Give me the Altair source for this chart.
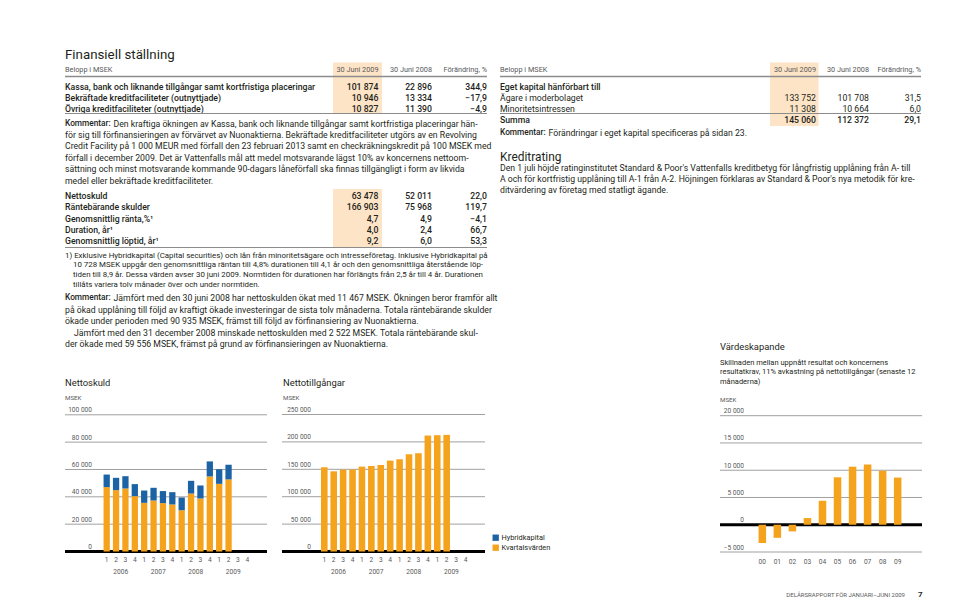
import altair as alt
import pandas as pd

W, H = 944, 591
OFF = 8
FONT = "Roboto"
DARK = "#231f20"
GRAY = "#58595b"
ORANGE = "#f5a21c"
BLUE = "#1b63a5"
PEACH = "#fde4c6"
GRID = "#a0a0a0"

BODY = 8.7
ROW = 8.7
ROWW = 500
SMALL = 7.3

# ---------------- text content ----------------
title_left = "Finansiell ställning"
belopp = "Belopp i MSEK"
col_heads = ["30 Juni 2009", "30 Juni 2008", "Förändring, %"]

t1_labels = ["Kassa, bank och liknande tillgångar samt kortfristiga placeringar",
             "Bekräftade kreditfaciliteter (outnyttjade)",
             "Övriga kreditfaciliteter (outnyttjade)"]
t1_2009 = ["101 874", "10 946", "10 827"]
t1_2008 = ["22 896", "13 334", "11 390"]
t1_chg = ["344,9", "−17,9", "−4,9"]

comment_label = "Kommentar:"
comment1_first = "Den kraftiga ökningen av Kassa, bank och liknande tillgångar samt kortfristiga placeringar hän-"
comment1_rest = [
    "för sig till förfinansieringen av förvärvet av Nuonaktierna. Bekräftade kreditfaciliteter utgörs av en Revolving",
    "Credit Facility på 1 000 MEUR med förfall den 23 februari 2013 samt en checkräkningskredit på 100 MSEK med",
    "förfall i december 2009. Det är Vattenfalls mål att medel motsvarande lägst 10% av koncernens nettoom-",
    "sättning och minst motsvarande kommande 90-dagars låneförfall ska finnas tillgängligt i form av likvida",
    "medel eller bekräftade kreditfaciliteter.",
]

t2_labels = ["Nettoskuld", "Räntebärande skulder", "Genomsnittlig ränta,%¹",
             "Duration, år¹", "Genomsnittlig löptid, år¹"]
t2_2009 = ["63 478", "166 903", "4,7", "4,0", "9,2"]
t2_2008 = ["52 011", "75 968", "4,9", "2,4", "6,0"]
t2_chg = ["22,0", "119,7", "−4,1", "66,7", "53,3"]

footnote = [
    "1) Exklusive Hybridkapital (Capital securities) och lån från minoritetsägare och intresseföretag. Inklusive Hybridkapital på",
    "10 728 MSEK uppgår den genomsnittliga räntan till 4,8% durationen till 4,1 år och den genomsnittliga återstående löp-",
    "tiden till 8,9 år. Dessa värden avser 30 juni 2009. Normtiden för durationen har förlängts från 2,5 år till 4 år. Durationen",
    "tillåts variera tolv månader över och under normtiden.",
]

comment2_first = "Jämfört med den 30 juni 2008 har nettoskulden ökat med 11 467 MSEK. Ökningen beror framför allt"
comment2_rest = [
    "på ökad upplåning till följd av kraftigt ökade investeringar de sista tolv månaderna. Totala räntebärande skulder",
    "ökade under perioden med 90 935 MSEK, främst till följd av förfinansiering av Nuonaktierna.",
]
comment2_para2 = [
    "Jämfört med den 31 december 2008 minskade nettoskulden med 2 522 MSEK. Totala räntebärande skul-",
    "der ökade med 59 556 MSEK, främst på grund av förfinansieringen av Nuonaktierna.",
]

t3_labels = ["Eget kapital hänförbart till", "Ägare i moderbolaget", "Minoritetsintressen", "Summa"]
t3_2009 = ["", "133 752", "11 308", "145 060"]
t3_2008 = ["", "101 708", "10 664", "112 372"]
t3_chg = ["", "31,5", "6,0", "29,1"]
t3_bold = [True, False, False, True]
comment3 = "Förändringar i eget kapital specificeras på sidan 23."

kredit_title = "Kreditrating"
kredit_text = [
    "Den 1 juli höjde ratinginstitutet Standard & Poor's Vattenfalls kreditbetyg för långfristig upplåning från A- till",
    "A och för kortfristig upplåning till A-1 från A-2. Höjningen förklaras av Standard & Poor's nya metodik för kre-",
    "ditvärdering av företag med statligt ägande.",
]

vs_title = "Värdeskapande"
vs_sub = ["Skillnaden mellan uppnått resultat och koncernens",
          "resultatkrav, 11% avkastning på nettotillgångar (senaste 12",
          "månaderna)"]
footer = "DELÅRSRAPPORT FÖR JANUARI–JUNI 2009"
page_no = "7"

# ---------------- chart data ----------------
years = ["2006", "2007", "2008", "2009"]
quarter_nums = ["1", "2", "3", "4"]
quarters = [f"{y}-{q}" for y in years for q in quarter_nums]

ns_kvartal = [47100, 44900, 46100, 40500, 35600, 37300, 35400, 34400,
              30200, 42400, 38800, 54900, 49500, 52750]
ns_hybrid = [9200, 9000, 9000, 8800, 9000, 9300, 8800, 9000,
             9300, 9300, 9500, 11000, 10700, 10728]
ns_ticks = [0, 20000, 40000, 60000, 80000, 100000]
ns_tick_labels = ["0", "20 000", "40 000", "60 000", "80 000", "100 000"]

nt_values = [153700, 146300, 149400, 149600, 154900, 156100, 157900, 165900,
             168300, 177400, 179300, 211600, 212200, 212800]
nt_ticks = [0, 50000, 100000, 150000, 200000, 250000]
nt_tick_labels = ["0", "50 000", "100 000", "150 000", "200 000", "250 000"]

vs_years = ["00", "01", "02", "03", "04", "05", "06", "07", "08", "09"]
vs_values = [-3350, -2400, -1220, 1220, 4400, 8700, 10650, 11050, 9900, 8650]
vs_ticks = [-5000, 0, 5000, 10000, 15000, 20000]
vs_tick_labels = ["−5 000", "0", "5 000", "10 000", "15 000", "20 000"]

# ---------------- helpers ----------------
PXX = alt.Scale(domain=[0, W], range=[0, W])
PXY = alt.Scale(domain=[0, H], range=[0, H])
layers = []


def text_layer(items, **style):
    df = pd.DataFrame(items, columns=["x", "y", "t"])
    df["x"] = df["x"] - OFF
    df["y"] = df["y"] - OFF
    base = dict(font=FONT, fontSize=BODY, color=DARK, align="left", baseline="middle")
    base.update(style)
    return alt.Chart(df).mark_text(**base).encode(
        x=alt.X("x:Q", scale=PXX, axis=None),
        y=alt.Y("y:Q", scale=PXY, axis=None),
        text="t:N")


def rule_layer(items, color, width):
    df = pd.DataFrame(items, columns=["x", "x2", "y"])
    for c in df.columns:
        df[c] = df[c] - OFF
    return alt.Chart(df).mark_rule(color=color, strokeWidth=width).encode(
        x=alt.X("x:Q", scale=PXX, axis=None), x2="x2:Q",
        y=alt.Y("y:Q", scale=PXY, axis=None))


def rect_layer(items, color):
    df = pd.DataFrame(items, columns=["x", "x2", "y", "y2"])
    for c in df.columns:
        df[c] = df[c] - OFF
    return alt.Chart(df).mark_rect(color=color).encode(
        x=alt.X("x:Q", scale=PXX, axis=None), x2="x2:Q",
        y=alt.Y("y:Q", scale=PXY, axis=None), y2="y2:Q")


# ---------------- highlight columns ----------------
layers.append(rect_layer([(333, 382, 62.5, 113.5), (333, 382, 189, 247.5), (770, 818.5, 62.5, 126)], PEACH))

# ---------------- left column text ----------------
layers.append(text_layer([(65, 55, title_left)], fontSize=13.3))
layers.append(text_layer([(65, 69.5, belopp), (500, 69.5, belopp)], fontSize=SMALL, color=GRAY))
heads = [(378.5, 69.5, col_heads[0]), (432, 69.5, col_heads[1]), (487, 69.5, col_heads[2]),
         (816, 69.5, col_heads[0]), (869, 69.5, col_heads[1]), (921, 69.5, col_heads[2])]
layers.append(text_layer(heads, fontSize=SMALL, color=GRAY, align="right"))
layers.append(rule_layer([(65, 487, 76.5), (500, 921, 76.5)], "#8c8c8c", 1.5))

row_y1 = [87.2, 98.4, 109.4]
layers.append(text_layer([(65, y, t) for y, t in zip(row_y1, t1_labels)], fontSize=ROW, fontWeight=ROWW))
vals1 = []
for y, a, b, c in zip(row_y1, t1_2009, t1_2008, t1_chg):
    vals1 += [(378.5, y, a), (432, y, b), (487, y, c)]
layers.append(text_layer(vals1, fontSize=ROW, fontWeight=ROWW, align="right"))
layers.append(rule_layer([(65, 487, 113.5), (65, 487, 247.5), (500, 921, 113.5)], "#8c8c8c", 1))

para_y1 = [123.5 + 11.4 * i for i in range(6)]
layers.append(text_layer([(65, para_y1[0], comment_label), (65, 298, comment_label), (500, 133, comment_label)],
                         fontSize=8.3, fontWeight=ROWW))
first_lines = [(113.5, para_y1[0], comment1_first), (113.5, 298, comment2_first), (548.5, 133, comment3)]
layers.append(text_layer(first_lines))
layers.append(text_layer([(65, y, t) for y, t in zip(para_y1[1:], comment1_rest)]))

row_y2 = [196, 207.3, 218.6, 229.9, 241.2]
layers.append(text_layer([(65, y, t) for y, t in zip(row_y2, t2_labels)], fontSize=ROW, fontWeight=ROWW))
vals2 = []
for y, a, b, c in zip(row_y2, t2_2009, t2_2008, t2_chg):
    vals2 += [(378.5, y, a), (432, y, b), (487, y, c)]
layers.append(text_layer(vals2, fontSize=ROW, fontWeight=ROWW, align="right"))

fn_y = [255.5, 265.2, 274.9, 284.6]
fn_items = [(65, fn_y[0], footnote[0])] + [(73, y, t) for y, t in zip(fn_y[1:], footnote[1:])]
layers.append(text_layer(fn_items, fontSize=7.9))

c2_items = [(65, 309.5, comment2_rest[0]), (65, 321, comment2_rest[1]),
            (74, 332.5, comment2_para2[0]), (65, 344, comment2_para2[1])]
layers.append(text_layer(c2_items))

# ---------------- right column text ----------------
row_y3 = [86.5, 97.5, 108.5, 119.5]
for bold in (True, False):
    lab = [(500, y, t) for y, t, b in zip(row_y3, t3_labels, t3_bold) if b == bold]
    val = []
    for y, a, bb, c, b in zip(row_y3, t3_2009, t3_2008, t3_chg, t3_bold):
        if b == bold and a:
            val += [(816, y, a), (869, y, bb), (921, y, c)]
    style = dict(fontSize=ROW, fontWeight=ROWW if bold else "normal")
    layers.append(text_layer(lab, **style))
    layers.append(text_layer(val, align="right", **style))

layers.append(text_layer([(500, 157, kredit_title)], fontSize=11.9))
layers.append(text_layer([(500, 168 + 11 * i, t) for i, t in enumerate(kredit_text)]))

# ---------------- chart titles ----------------
layers.append(text_layer([(65, 383, "Nettoskuld"), (283, 383, "Nettotillgångar"), (720, 347, vs_title)], fontSize=9.4))
layers.append(text_layer([(65, 398, "MSEK"), (283, 398, "MSEK"), (720, 400, "MSEK")], fontSize=6.2, color=GRAY))
layers.append(text_layer([(720, 362.5 + 9.6 * i, t) for i, t in enumerate(vs_sub)], fontSize=7.5))
layers.append(text_layer([(905, 595, footer)], fontSize=6, color=GRAY, align="right"))
layers.append(text_layer([(918, 594.5, page_no)], fontSize=8, fontWeight="bold"))


# ---------------- bar charts ----------------
def axis_parts(ticks, labels, yscale, x0, x1, label_x):
    tdf = pd.DataFrame({"v": ticks, "lab": labels})
    grid = alt.Chart(tdf[tdf.v != 0]).mark_rule(color=GRID, strokeWidth=1).encode(
        y=alt.Y("v:Q", scale=yscale, axis=None),
        x=alt.value(x0 - OFF), x2=alt.value(x1 - OFF))
    zero = alt.Chart(tdf[tdf.v == 0]).mark_rule(color="#000000", strokeWidth=3).encode(
        y=alt.Y("v:Q", scale=yscale, axis=None),
        x=alt.value(x0 - OFF), x2=alt.value(x1 - OFF))
    labs = alt.Chart(tdf).mark_text(font=FONT, fontSize=6.6, color=GRAY, align="right",
                                    baseline="bottom", dy=-1.5).encode(
        y=alt.Y("v:Q", scale=yscale, axis=None),
        x=alt.value(label_x - OFF), text="lab:N")
    return [grid, labs, zero]


def quarter_labels(xscale, y_q, y_year, step):
    qdf = pd.DataFrame({"q": quarters, "lab": [q.split("-")[1] for q in quarters]})
    ql = alt.Chart(qdf).mark_text(font=FONT, fontSize=6.6, color=GRAY).encode(
        x=alt.X("q:N", scale=xscale, axis=None), y=alt.value(y_q - OFF), text="lab:N")
    ydf = pd.DataFrame({"q": [f"{y}-3" for y in years], "lab": years})
    yl = alt.Chart(ydf).mark_text(font=FONT, fontSize=6.6, color=GRAY, dx=-step / 2).encode(
        x=alt.X("q:N", scale=xscale, axis=None), y=alt.value(y_year - OFF), text="lab:N")
    return [ql, yl]


# Nettoskuld
ns_x = alt.Scale(domain=quarters, range=[102 - OFF, 252 - OFF], paddingInner=0.33, paddingOuter=0.165)
ns_y = alt.Scale(domain=[0, 100000], range=[551.5 - OFF, 414.8 - OFF], nice=False, zero=False)
ns_rows = []
for q, k, h in zip(quarters, ns_kvartal, ns_hybrid):
    ns_rows.append({"q": q, "serie": "Kvartalsvärden", "y0": 0, "y1": k})
    ns_rows.append({"q": q, "serie": "Hybridkapital", "y0": k, "y1": k + h})
ns_df = pd.DataFrame(ns_rows)
layers += axis_parts(ns_ticks, ns_tick_labels, ns_y, 65, 267, 92)
layers.append(alt.Chart(ns_df).mark_bar().encode(
    x=alt.X("q:N", scale=ns_x, axis=None),
    y=alt.Y("y1:Q", scale=ns_y, axis=None), y2="y0:Q",
    color=alt.Color("serie:N",
                    scale=alt.Scale(domain=["Hybridkapital", "Kvartalsvärden"], range=[BLUE, ORANGE]),
                    legend=alt.Legend(orient="none", legendX=492 - OFF, legendY=534 - OFF, title=None,
                                      symbolType="square", symbolSize=40, symbolStrokeWidth=0,
                                      labelFont=FONT, labelFontSize=7.4, labelColor=DARK,
                                      rowPadding=1, labelOffset=2))))
layers += quarter_labels(ns_x, 560, 571.5, 9.375)

# Nettotillgångar
nt_x = alt.Scale(domain=quarters, range=[319.6 - OFF, 470.2 - OFF], paddingInner=0.3, paddingOuter=0.15)
nt_y = alt.Scale(domain=[0, 250000], range=[551.5 - OFF, 414.5 - OFF], nice=False, zero=False)
nt_df = pd.DataFrame({"q": quarters[:len(nt_values)], "v": nt_values})
layers += axis_parts(nt_ticks, nt_tick_labels, nt_y, 282, 485, 311)
layers.append(alt.Chart(nt_df).mark_bar(color=ORANGE).encode(
    x=alt.X("q:N", scale=nt_x, axis=None),
    y=alt.Y("v:Q", scale=nt_y, axis=None)))
layers += quarter_labels(nt_x, 560, 571.5, 9.41)

# Värdeskapande
vs_x = alt.Scale(domain=vs_years, range=[754.8 - OFF, 905.2 - OFF], paddingInner=0.5, paddingOuter=0.25)
vs_y = alt.Scale(domain=[-5000, 20000], range=[552 - OFF, 415.7 - OFF], nice=False, zero=False)
vs_df = pd.DataFrame({"yr": vs_years, "v": vs_values, "z": [0] * len(vs_years)})
layers += axis_parts(vs_ticks, vs_tick_labels, vs_y, 720, 922, 744)
layers.append(alt.Chart(vs_df).mark_bar(color=ORANGE).encode(
    x=alt.X("yr:N", scale=vs_x, axis=None),
    y=alt.Y("v:Q", scale=vs_y, axis=None), y2="z:Q"))
layers.append(alt.Chart(vs_df).mark_text(font=FONT, fontSize=6.6, color=GRAY).encode(
    x=alt.X("yr:N", scale=vs_x, axis=None), y=alt.value(562 - OFF), text="yr:N"))

chart = alt.layer(*layers).resolve_scale(
    x="independent", y="independent", color="independent"
).properties(
    width=W, height=H, padding=0, autosize=alt.AutoSizeParams(type="none"),
    background="#ffffff"
).configure_view(stroke=None)

chart.save("out.html", embed_options={"renderer": "svg", "actions": False})
